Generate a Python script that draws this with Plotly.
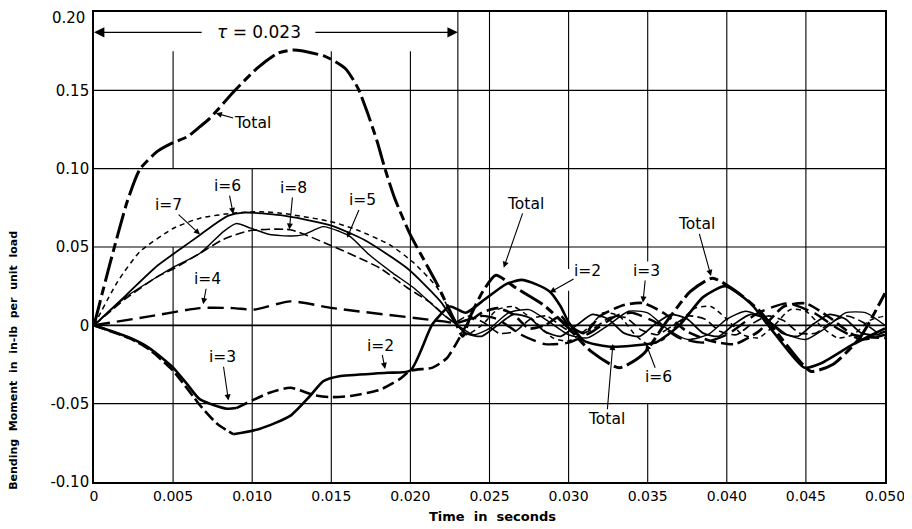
import plotly.graph_objects as go

# ---------------- data ----------------
x_tick_vals = [0, 0.005, 0.010, 0.015, 0.020, 0.025, 0.030, 0.035, 0.040, 0.045, 0.050]
x_tick_text = ["0", "0.005", "0.010", "0.015", "0.020", "0.025", "0.030", "0.035", "0.040", "0.045", "0.050"]
y_tick_vals = [-0.10, -0.05, 0, 0.05, 0.10, 0.15]
y_tick_text = ["-0.10", "-0.05", "0", "0.05", "0.10", "0.15"]
y_top_val = 0.20
y_top_text = "0.20"

tau = 0.023

total_x = [0, 0.001, 0.0021, 0.0029, 0.004, 0.005, 0.0059, 0.0067, 0.0073, 0.0088, 0.0103, 0.0116,
           0.0126, 0.0146, 0.0159, 0.0167, 0.0173, 0.0179, 0.0184, 0.0190, 0.0200, 0.0208, 0.0217,
           0.0223, 0.0229, 0.0233, 0.0238, 0.0246, 0.0254, 0.0267, 0.0284, 0.0300, 0.0314, 0.0332,
           0.0347, 0.0362, 0.0377, 0.0391, 0.0406, 0.0421, 0.0436, 0.0453, 0.0467, 0.0484, 0.0500]
total_y = [0, 0.039, 0.079, 0.0996, 0.111, 0.1166, 0.1204, 0.1268, 0.1319, 0.1488, 0.164, 0.1736,
           0.1757, 0.1717, 0.1638, 0.1511, 0.1353, 0.1173, 0.0997, 0.0813, 0.0577, 0.0428, 0.0261,
           0.0134, 0.0008, -0.007, 0.006, 0.022, 0.032, 0.0237, 0.0131, -0.0017, -0.0165, -0.0271,
           -0.0186, 0.0025, 0.0216, 0.0301, 0.0216, 0.0089, -0.0102, -0.0293, -0.025, -0.0081, 0.0205]

i2_x = [0, 0.0023, 0.0035, 0.005, 0.0067, 0.0078, 0.0088, 0.0105, 0.0124, 0.01365, 0.0145, 0.0155,
        0.0185, 0.0200, 0.0214, 0.0225, 0.0235, 0.0245, 0.0260, 0.0270, 0.0280, 0.0288, 0.0295,
        0.0300, 0.0310, 0.0325, 0.0340, 0.0355, 0.0370, 0.0385, 0.0399, 0.0415, 0.0430, 0.0449,
        0.0460, 0.0480, 0.0500]
i2_y = [0, -0.0085, -0.0155, -0.029, -0.051, -0.063, -0.0695, -0.066, -0.0578, -0.0451, -0.0356,
        -0.0325, -0.0303, -0.0288, 0.0008, 0.012, 0.008, 0.015, 0.026, 0.029, 0.026, 0.0216, 0.012,
        0.002, -0.010, -0.0135, -0.013, -0.011, 0.0, 0.018, 0.025, 0.014, -0.005, -0.027,
        -0.024, -0.012, -0.002]

i3_x = [0, 0.0023, 0.0035, 0.005, 0.0059, 0.0067, 0.0084, 0.009, 0.0111, 0.0124, 0.0139, 0.0149,
        0.0162, 0.0181, 0.0193, 0.0200, 0.0214, 0.0223, 0.0231, 0.0236, 0.0245, 0.0255, 0.0265,
        0.0275, 0.0285, 0.0295, 0.0300, 0.0310, 0.0320, 0.0335, 0.0347, 0.0360, 0.0375, 0.0390,
        0.0405, 0.0420, 0.0436, 0.0450, 0.0465, 0.0480, 0.0500]
i3_y = [0, -0.0081, -0.0145, -0.027, -0.0377, -0.0473, -0.0532, -0.0528, -0.043, -0.0398, -0.0445,
        -0.0458, -0.0451, -0.041, -0.0345, -0.029, -0.027, -0.021, -0.008, 0.001, 0.008, 0.011,
        0.007, -0.002, 0.0, 0.006, 0.0, -0.005, 0.006, 0.013, 0.0142, 0.008, -0.004, -0.010,
        -0.012, -0.004, 0.012, 0.014, 0.005, -0.006, -0.008]

i4_x = [0, 0.0035, 0.0067, 0.0088, 0.0101, 0.0124, 0.0151, 0.0221, 0.0229, 0.0245, 0.0255, 0.0270,
        0.0285, 0.0300, 0.0315, 0.0330, 0.0340, 0.0355, 0.0370, 0.0385, 0.0400, 0.0420, 0.0438,
        0.0455, 0.0470, 0.0485, 0.0500]
i4_y = [0, 0.0057, 0.011, 0.011, 0.010, 0.0153, 0.011, 0.0025, 0.0015, 0.006, 0.004, -0.006,
        -0.012, -0.011, -0.004, 0.006, 0.008, 0.002, -0.008, -0.011, -0.006, 0.008, 0.014,
        0.008, -0.002, -0.009, -0.006]

i5_x = [0, 0.002, 0.004, 0.005, 0.0067, 0.0082, 0.009, 0.0099, 0.0111, 0.0125, 0.0132, 0.0145,
        0.0155, 0.0162, 0.0174, 0.0188, 0.0202, 0.0223, 0.0230, 0.0240, 0.0250, 0.0262, 0.0275,
        0.0288, 0.0300, 0.0312, 0.0325, 0.0338, 0.0350, 0.0362, 0.0375, 0.0388, 0.0400, 0.0412,
        0.0425, 0.0438, 0.0450, 0.0462, 0.0475, 0.0488, 0.0500]
i5_y = [0, 0.018, 0.031, 0.037, 0.046, 0.060, 0.065, 0.062, 0.058, 0.057, 0.0577, 0.063,
        0.060, 0.0566, 0.045, 0.034, 0.024, 0.005, 0.0, -0.006, -0.002, 0.008, 0.010,
        0.002, -0.006, -0.008, 0.0, 0.009, 0.008, -0.002, -0.009, -0.006, 0.004, 0.009,
        0.004, -0.006, -0.009, -0.002, 0.008, 0.008, 0.0]

i6_x = [0, 0.0015, 0.0029, 0.005, 0.0067, 0.0088, 0.0105, 0.0118, 0.0149, 0.0166, 0.0187, 0.0202,
        0.0217, 0.0225, 0.0229, 0.0235, 0.0245, 0.0255, 0.0265, 0.0277, 0.0290, 0.0300, 0.0312,
        0.0322, 0.0332, 0.0342, 0.0350, 0.0360, 0.0370, 0.0380, 0.0390, 0.0400, 0.0410, 0.0420,
        0.0430, 0.0440, 0.0450, 0.0460, 0.0470, 0.0480, 0.0490, 0.0500]
i6_y = [0, 0.028, 0.047, 0.0618, 0.0684, 0.0716, 0.0725, 0.0716, 0.0664, 0.061, 0.0514, 0.040,
        0.024, 0.009, 0.002, -0.006, 0.0, 0.010, 0.012, 0.004, -0.008, -0.010, -0.002,
        0.008, 0.006, -0.006, -0.012, -0.009, 0.002, 0.011, 0.012, 0.004, -0.006, -0.008,
        0.0, 0.010, 0.009, -0.001, -0.008, -0.006, 0.003, 0.006]

i7_x = [0, 0.002, 0.004, 0.0055, 0.0067, 0.0077, 0.0085, 0.0095, 0.0118, 0.0149, 0.0171, 0.0198,
        0.0219, 0.0228, 0.0235, 0.0245, 0.0255, 0.0265, 0.0275, 0.0285, 0.0295, 0.0305, 0.0315,
        0.0325, 0.0335, 0.0345, 0.0355, 0.0365, 0.0375, 0.0385, 0.0395, 0.0405, 0.0415, 0.0425,
        0.0435, 0.0445, 0.0455, 0.0465, 0.0475, 0.0485, 0.0495, 0.0500]
i7_y = [0, 0.019, 0.038, 0.049, 0.0577, 0.065, 0.070, 0.072, 0.0703, 0.064, 0.0545, 0.0364,
        0.0153, 0.002, -0.005, -0.007, 0.0, 0.007, 0.005, -0.004, -0.007, 0.0, 0.007,
        0.004, -0.005, -0.007, 0.001, 0.007, 0.004, -0.005, -0.007, 0.001, 0.007, 0.004,
        -0.005, -0.007, 0.001, 0.007, 0.004, -0.005, -0.006, -0.004]

i8_x = [0, 0.002, 0.004, 0.005, 0.0067, 0.0082, 0.0099, 0.0124, 0.0149, 0.0168, 0.0181, 0.0198,
        0.0212, 0.0228, 0.0236, 0.0246, 0.0256, 0.0266, 0.0276, 0.0286, 0.0296, 0.0306, 0.0316,
        0.0326, 0.0336, 0.0346, 0.0356, 0.0366, 0.0376, 0.0386, 0.0396, 0.0406, 0.0416, 0.0426,
        0.0436, 0.0446, 0.0456, 0.0466, 0.0476, 0.0486, 0.0496, 0.0500]
i8_y = [0, 0.017, 0.031, 0.036, 0.046, 0.055, 0.0605, 0.061, 0.0513, 0.0428, 0.0364, 0.024,
        0.015, 0.002, 0.006, 0.002, -0.005, -0.004, 0.004, 0.006, -0.001, -0.006, -0.002,
        0.005, 0.005, -0.003, -0.006, 0.0, 0.006, 0.004, -0.004, -0.006, 0.001, 0.006,
        0.003, -0.005, -0.005, 0.002, 0.006, 0.002, -0.005, -0.004]

# label texts, anchor (text) positions and arrow tips
label_text = ["Total", "i=6", "i=7", "i=8", "i=5", "i=4", "i=3", "i=2",
              "Total", "i=2", "i=3", "Total", "i=6", "Total"]
label_x = [0.0100, 0.00845, 0.0047, 0.0126, 0.0170, 0.0072, 0.0081, 0.0181,
           0.0273, 0.0312, 0.0349, 0.0381, 0.0357, 0.0324]
label_y = [0.129, 0.0888, 0.0767, 0.0877, 0.0797, 0.0294, -0.0204, -0.013,
           0.0775, 0.0347, 0.0347, 0.0644, -0.0331, -0.0596]
tip_x = [0.0077, 0.0088, 0.0067, 0.01235, 0.0160, 0.0069, 0.0085, 0.0184,
         0.0259, 0.0288, 0.0347, 0.0390, 0.0349, 0.0328]
tip_y = [0.1354, 0.0711, 0.058, 0.0612, 0.0559, 0.0135, -0.048, -0.0278,
         0.0368, 0.0209, 0.0146, 0.0315, -0.0119, -0.0119]

# ---------------- figure ----------------
FONT = "DejaVu Sans"
fig = go.Figure()


def add_curve(x, y, width, dash, split=None, dash2=None):
    if split is None:
        parts = [(x, y, dash)]
    else:
        k = max(i for i, v in enumerate(x) if v <= split)
        parts = [(x[:k + 1], y[:k + 1], dash), (x[k:], y[k:], dash2)]
    for px, py, d in parts:
        fig.add_trace(go.Scatter(
            x=px, y=py, mode="lines", showlegend=False, hoverinfo="skip",
            line=dict(color="black", width=width, dash=d, shape="spline", smoothing=0.6)))


add_curve(i8_x, i8_y, 1.6, "9px,4px")
add_curve(i7_x, i7_y, 1.8, "solid")
add_curve(i6_x, i6_y, 1.5, "5px,4px")
add_curve(i5_x, i5_y, 1.4, "solid")
add_curve(i4_x, i4_y, 2.4, "16px,7px")
add_curve(i3_x, i3_y, 2.6, "solid", split=0.009, dash2="12px,5px")
add_curve(i2_x, i2_y, 2.6, "12px,4px", split=0.0088, dash2="solid")
add_curve(total_x, total_y, 3.0, "26px,5px,9px,5px")

# grid (hand-drawn chart: some segments are missing)
shapes = []
for yv in [-0.05, 0.05, 0.10, 0.15]:
    shapes.append(dict(type="line", xref="x", yref="y", x0=0, x1=0.05, y0=yv, y1=yv,
                       line=dict(color="black", width=1.1)))
shapes.append(dict(type="line", xref="x", yref="y", x0=0, x1=0.05, y0=0, y1=0,
                   line=dict(color="black", width=1.6)))
vertical_segments = [(0.005, -0.10, 0.05), (0.005, 0.10, 0.175), (0.010, -0.10, 0.10),
                     (0.015, -0.10, 0.175), (0.020, -0.10, 0.175), (tau, 0.0, 0.20),
                     (0.025, -0.10, 0.20), (0.030, -0.10, 0.022), (0.030, 0.036, 0.20),
                     (0.035, -0.10, -0.05), (0.035, 0.036, 0.20), (0.040, -0.10, 0.20),
                     (0.045, -0.10, 0.20)]
for xv, y0, y1 in vertical_segments:
    shapes.append(dict(type="line", xref="x", yref="y", x0=xv, x1=xv, y0=y0, y1=y1,
                       line=dict(color="black", width=1.1)))

annotations = []
# top y tick label (drawn as text so it stays inside the page)
annotations.append(dict(x=-0.0089, y=y_top_val, xref="paper", yref="y", showarrow=False,
                        xanchor="right", yanchor="middle", yshift=-6, text=y_top_text,
                        font=dict(family=FONT, size=15, color="black")))
# tau dimension arrow
tau_y = 0.187
annotations.append(dict(x=0, y=tau_y, ax=0.0069, ay=tau_y, xref="x", yref="y", axref="x", ayref="y",
                        text="", showarrow=True, arrowhead=2, arrowsize=1.6, arrowwidth=1.3,
                        arrowcolor="black"))
annotations.append(dict(x=tau, y=tau_y, ax=0.0139, ay=tau_y, xref="x", yref="y", axref="x", ayref="y",
                        text="", showarrow=True, arrowhead=2, arrowsize=1.6, arrowwidth=1.3,
                        arrowcolor="black"))
annotations.append(dict(x=0.0104, y=tau_y, xref="x", yref="y", showarrow=False,
                        text="<i>τ</i> = 0.023", font=dict(family=FONT, size=17, color="black")))

for t, lx, ly, tx, ty in zip(label_text, label_x, label_y, tip_x, tip_y):
    annotations.append(dict(x=tx, y=ty, ax=lx, ay=ly, xref="x", yref="y", axref="x", ayref="y",
                            text=t, showarrow=True, arrowhead=2, arrowsize=1.1, arrowwidth=1.1,
                            arrowcolor="black", bgcolor="white", borderpad=0,
                            font=dict(family=FONT, size=15.5, color="black")))

# axis titles
annotations.append(dict(x=-0.101, y=0.258, xref="paper", yref="paper", showarrow=False,
                        xanchor="center", yanchor="middle", textangle=-90,
                        text="<b>Bending  Moment  in  in-lb  per  unit  load</b>",
                        font=dict(family=FONT, size=11, color="black")))
annotations.append(dict(x=0.504, y=-0.0742, xref="paper", yref="paper", showarrow=False,
                        xanchor="center", yanchor="middle",
                        text="<b>Time  in  seconds</b>",
                        font=dict(family=FONT, size=13, color="black")))

# the page body adds an 8 px offset, so the figure is 8 px smaller and margins are shifted
fig.update_layout(
    width=904, height=521,
    margin=dict(l=86, r=27, t=2, b=47),
    paper_bgcolor="white", plot_bgcolor="white",
    shapes=shapes, annotations=annotations,
    font=dict(family=FONT, color="black"),
    xaxis=dict(range=[0, 0.05], showgrid=False, zeroline=False, showline=True, mirror=True,
               linecolor="black", linewidth=1.6, ticks="", tickvals=x_tick_vals,
               ticktext=x_tick_text, tickfont=dict(family=FONT, size=14, color="black")),
    yaxis=dict(range=[-0.10, 0.20], showgrid=False, zeroline=False, showline=True, mirror=True,
               linecolor="black", linewidth=1.6, ticks="", tickvals=y_tick_vals,
               ticktext=y_tick_text, tickfont=dict(family=FONT, size=15, color="black")),
)

fig.write_html("out.html")
